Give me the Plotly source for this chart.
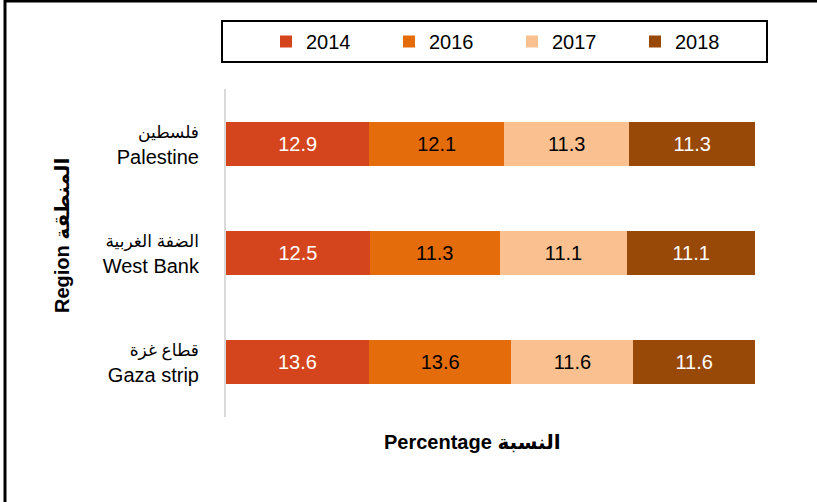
import plotly.graph_objects as go

# ---- data ----
regions = ["Palestine", "West Bank", "Gaza strip"]
regions_ar = ["فلسطين", "الضفة الغربية", "قطاع غزة"]
years = ["2014", "2016", "2017", "2018"]
v2014 = [12.9, 12.5, 13.6]
v2016 = [12.1, 11.3, 13.6]
v2017 = [11.3, 11.1, 11.6]
v2018 = [11.3, 11.1, 11.6]
series = [v2014, v2016, v2017, v2018]
colors = ["#D4451D", "#E46C0A", "#FAC090", "#984807"]
text_colors = ["white", "black", "black", "white"]

W, H = 817, 502
ML, MR, MT, MB = 226, 62, 89, 85
PW, PH = W - ML - MR, H - MT - MB


def px_x(x):
    return (x - ML) / PW


def px_y(y):
    return (H - MB - y) / PH


FONT = "Liberation Sans, Arial, DejaVu Sans, sans-serif"

fig = go.Figure()
for yr, vals, c, tc in zip(years, series, colors, text_colors):
    fig.add_trace(go.Bar(
        name=yr, y=regions, x=vals, orientation="h",
        marker=dict(color=c, line=dict(width=0)),
        text=vals, texttemplate="%{text:.1f}", textposition="inside",
        insidetextanchor="middle", textangle=0,
        textfont=dict(size=20, color=tc, family=FONT),
    ))

ticktext = [f"<span style='font-size:17px'>{a}</span><br>{e}" for a, e in zip(regions_ar, regions)]

fig.update_layout(
    width=W, height=H,
    margin=dict(l=ML, r=MR, t=MT, b=MB),
    barmode="stack", barnorm="percent", bargap=0.6,
    plot_bgcolor="white", paper_bgcolor="white",
    font=dict(family=FONT, size=20, color="black"),
    showlegend=True,
    legend=dict(
        orientation="h", x=px_x(266), xanchor="left", y=px_y(41.5), yanchor="middle",
        font=dict(size=20, family=FONT), entrywidth=78, entrywidthmode="pixels",
        bgcolor="rgba(0,0,0,0)", traceorder="normal",
    ),
    xaxis=dict(range=[0, 100], showgrid=False, showticklabels=False, zeroline=False,
               showline=False, ticks=""),
    yaxis=dict(autorange="reversed", tickvals=regions, ticktext=ticktext,
               showline=True, linecolor="#D9D9D9", linewidth=2, showgrid=False,
               ticks="outside", ticklen=21, tickcolor="rgba(0,0,0,0)",
               tickfont=dict(size=20, family=FONT, color="black")),
    shapes=[
        # legend box
        dict(type="rect", xref="paper", yref="paper", x0=px_x(222), x1=px_x(767),
             y0=px_y(62), y1=px_y(21), line=dict(color="black", width=2)),
        # outer frame (left and top)
        dict(type="line", xref="paper", yref="paper", x0=px_x(5), x1=px_x(5),
             y0=px_y(0), y1=px_y(H), line=dict(color="black", width=3)),
        dict(type="line", xref="paper", yref="paper", x0=px_x(4), x1=px_x(W),
             y0=px_y(1), y1=px_y(1), line=dict(color="black", width=3)),
    ],
    annotations=[
        dict(text="<b>Region المنطقة</b>", xref="paper", yref="paper",
             x=px_x(62), y=px_y(236), textangle=-90, showarrow=False,
             font=dict(size=20, family=FONT, color="black"),
             xanchor="center", yanchor="middle"),
        dict(text="<b>Percentage النسبة</b>", xref="paper", yref="paper",
             x=px_x(472), y=px_y(442), showarrow=False,
             font=dict(size=20, family=FONT, color="black"),
             xanchor="center", yanchor="middle"),
    ],
)

fig.write_html("out.html", config={"displayModeBar": False},
               post_script="document.body.style.margin='0';document.body.style.overflow='hidden';")
